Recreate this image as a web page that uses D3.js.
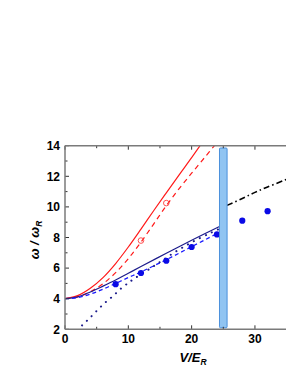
<!DOCTYPE html>
<head>
    <meta charset="utf-8">
    <title>Frequency vs lattice depth</title>
    <script type="text/javascript" src="https://d3js.org/d3.v7.min.js"></script>
    <style>
        body { margin: 0; background: #fff; }
        svg text { font-family: Arial, "Liberation Sans", sans-serif; font-weight: bold; fill: #000; }
    </style>
</head>
<body>
    <div id="container"></div>

<script>
    //-----------------------------DATA-----------------------------//
    const xTicks = [0, 10, 20, 30];
    const yTicks = [2, 4, 6, 8, 10, 12, 14];

    // lines (V/E_R, omega/omega_R)
    const redSolid   = [[0,4],[2,4.2],[4,4.68],[6,5.38],[8,6.3],[10,7.38],[12,8.55],[14,9.75],[16,10.92],[18,12.08],[20,13.22],[22,14.4]];
    const redDashed  = [[0,4],[2,4.12],[4,4.45],[6,4.98],[8,5.7],[10,6.62],[12,7.7],[14,8.88],[16,10.08],[18,11.18],[20,12.2],[22,13.2],[24,14.2]];
    const navySolid  = [[0,4],[2,4.12],[4,4.44],[6,4.82],[8,5.22],[10,5.66],[12,6.1],[16,6.97],[20,7.82],[24.4,8.72]];
    const blueDashed = [[0,4],[2,4.07],[4,4.3],[6,4.62],[8,5.0],[10,5.38],[12,5.75],[16,6.55],[20,7.4],[24,8.25]];
    const navyDotted = [[1.9,1.95],[3.2,2.45],[4.3,2.9],[5.4,3.37],[6.5,3.8],[7.6,4.18],[8.8,4.65],[9.9,5.0],[10.9,5.3],[13,5.85],[15,6.4],[17,6.95],[19,7.45],[21,7.9],[23,8.3],[24.3,8.55]];
    const blackDashDot = [[25.6,10.1],[28,10.55],[30,10.95],[32,11.3],[35,11.8]];

    // measured points
    const redOpen = [[12,7.8],[16,10.25]];
    const blueFilled = [[8,4.95],[12,5.68],[16,6.48],[20,7.38],[24,8.2],[28,9.1],[32,9.72]];

    // shaded band
    const band = {x0: 24.4, x1: 25.6, y0: 2.1, y1: 13.85};

    //-----------------------------SVG------------------------------//
    const width = 286;
    const height = 371;
    const svg = d3.select("#container").append("svg")
        .attr("width", width)
        .attr("height", height);

    const x = d3.scaleLinear().domain([0, 35]).range([65, 286.6]);
    const y = d3.scaleLinear().domain([2, 14]).range([329.3, 145.7]);

    svg.append("clipPath").attr("id", "plot-clip")
        .append("rect")
        .attr("x", x(0)).attr("y", y(14))
        .attr("width", x(35) - x(0)).attr("height", y(2) - y(14));

    const plot = svg.append("g").attr("clip-path", "url(#plot-clip)");

    const line = d3.line()
        .x(d => x(d[0]))
        .y(d => y(d[1]))
        .curve(d3.curveCatmullRom.alpha(0.5));

    //----------------------------LINES-----------------------------//
    const series = [
        {data: redSolid, color: "#ff1a1a", dash: null, w: 1.2},
        {data: redDashed, color: "#ff1a1a", dash: "5,4", w: 1.2},
        {data: navySolid, color: "#1c1c8c", dash: null, w: 1.2},
        {data: blueDashed, color: "#1a1aff", dash: "4,3", w: 1.3},
        {data: navyDotted, color: "#1c1c8c", dash: "0.1,6.6", w: 2, cap: "round"},
        {data: blackDashDot, color: "#000", dash: "6,3,1.5,3", w: 1.6}
    ];

    plot.selectAll("path.series")
        .data(series)
        .enter()
        .append("path")
        .attr("class", "series")
        .attr("d", d => line(d.data))
        .attr("fill", "none")
        .attr("stroke", d => d.color)
        .attr("stroke-width", d => d.w)
        .attr("stroke-dasharray", d => d.dash)
        .attr("stroke-linecap", d => d.cap || "butt");

    //---------------------------POINTS-----------------------------//
    plot.selectAll("circle.open")
        .data(redOpen)
        .enter()
        .append("circle")
        .attr("class", "open")
        .attr("cx", d => x(d[0]))
        .attr("cy", d => y(d[1]))
        .attr("r", 2.8)
        .attr("fill", "none")
        .attr("stroke", "#ff4040")
        .attr("stroke-width", 0.9);

    plot.selectAll("circle.filled")
        .data(blueFilled)
        .enter()
        .append("circle")
        .attr("class", "filled")
        .attr("cx", d => x(d[0]))
        .attr("cy", d => y(d[1]))
        .attr("r", 3.1)
        .attr("fill", "#0a0ae6");

    //----------------------------BAND------------------------------//
    svg.append("rect")
        .attr("x", x(band.x0))
        .attr("y", y(band.y1))
        .attr("width", x(band.x1) - x(band.x0))
        .attr("height", y(band.y0) - y(band.y1))
        .attr("rx", 1)
        .attr("fill", "#90c4f2")
        .attr("stroke", "#4a90dc")
        .attr("stroke-width", 1);

    //-----------------------------AXES-----------------------------//
    const axisColor = "#7a7a7a";
    const tickColor = "#333";

    function ticksX(vals, yPos, dir, len) {
        svg.append("g").selectAll("line")
            .data(vals).enter().append("line")
            .attr("x1", d => x(d)).attr("x2", d => x(d))
            .attr("y1", yPos).attr("y2", yPos + dir * len)
            .attr("stroke", tickColor).attr("stroke-width", 1);
    }
    function ticksY(vals, len) {
        svg.append("g").selectAll("line")
            .data(vals).enter().append("line")
            .attr("x1", x(0)).attr("x2", x(0) + len)
            .attr("y1", d => y(d)).attr("y2", d => y(d))
            .attr("stroke", tickColor).attr("stroke-width", 1);
    }

    const xMinor = [5, 15, 25];
    const yMinor = [3, 5, 7, 9, 11, 13];

    ticksX(xTicks, y(2), -1, 4);
    ticksX(xMinor, y(2), -1, 2.5);
    ticksX(xTicks, y(14), 1, 4);
    ticksX(xMinor, y(14), 1, 2.5);
    ticksY(yTicks, 4);
    ticksY(yMinor, 2.5);

    // axis lines
    svg.append("line")
        .attr("x1", x(0)).attr("x2", x(35))
        .attr("y1", y(2)).attr("y2", y(2))
        .attr("stroke", axisColor).attr("stroke-width", 1.5);
    svg.append("line")
        .attr("x1", x(0)).attr("x2", x(35))
        .attr("y1", y(14)).attr("y2", y(14))
        .attr("stroke", axisColor).attr("stroke-width", 1.5);
    svg.append("line")
        .attr("x1", x(0)).attr("x2", x(0))
        .attr("y1", y(2)).attr("y2", y(14))
        .attr("stroke", axisColor).attr("stroke-width", 1.5);

    // tick labels
    svg.append("g").selectAll("text")
        .data(xTicks).enter().append("text")
        .attr("x", d => x(d))
        .attr("y", 342.5)
        .attr("text-anchor", "middle")
        .attr("font-size", 12)
        .text(d => d);

    svg.append("g").selectAll("text")
        .data(yTicks).enter().append("text")
        .attr("x", 60)
        .attr("y", d => y(d) + 4.3)
        .attr("text-anchor", "end")
        .attr("font-size", 12)
        .text(d => d);

    //----------------------------LABELS----------------------------//
    const xLab = svg.append("text")
        .attr("x", 193)
        .attr("y", 362)
        .attr("text-anchor", "middle")
        .attr("font-size", 13)
        .attr("font-style", "italic");
    xLab.append("tspan").text("V/E");
    xLab.append("tspan").attr("font-size", 8.5).attr("dy", 3).text("R");

    const yLab = svg.append("text")
        .attr("transform", "translate(39,240) rotate(-90)")
        .attr("text-anchor", "middle")
        .attr("font-size", 13)
        .attr("font-style", "italic");
    yLab.append("tspan").text("\u03C9 / \u03C9");
    yLab.append("tspan").attr("font-size", 8.5).attr("dy", 3).text("R");
</script>
</body>
